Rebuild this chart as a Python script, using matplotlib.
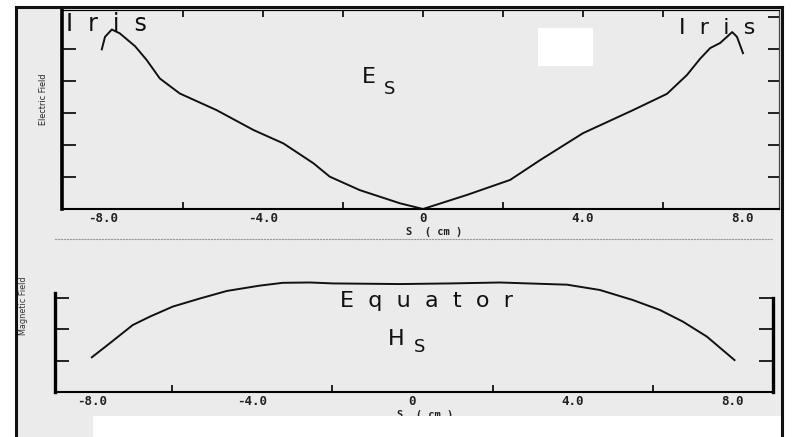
import matplotlib
matplotlib.use("Agg")
import matplotlib.pyplot as plt
from matplotlib.patches import Rectangle
from matplotlib.lines import Line2D

# Electric field along the cavity wall, S in cm
s_e = [-8.03, -7.95, -7.78, -7.58, -7.2, -6.91, -6.58, -6.08, -5.16, -4.24,
       -3.49, -2.74, -2.33, -1.58, -0.58, 0.0, 1.1, 2.18, 2.93, 4.0, 5.25,
       6.1, 6.6, 6.93, 7.18, 7.43, 7.73, 7.85, 8.0]
e_s = [4.99, 5.38, 5.61, 5.49, 5.09, 4.66, 4.08, 3.61, 3.09, 2.47,
       2.05, 1.43, 1.01, 0.59, 0.18, 0.0, 0.44, 0.91, 1.53, 2.37, 3.09,
       3.6, 4.19, 4.7, 5.03, 5.19, 5.53, 5.38, 4.87]

# Magnetic field along the cavity wall
s_h = [-8.0, -7.55, -6.98, -6.55, -5.98, -5.3, -4.63, -3.81, -3.23, -2.56,
       -1.98, -0.31, 0.94, 2.18, 3.86, 4.68, 5.5, 6.18, 6.75, 7.35, 8.04]
h_s = [1.11, 1.56, 2.14, 2.41, 2.73, 2.99, 3.23, 3.40, 3.49, 3.50,
       3.47, 3.45, 3.47, 3.50, 3.43, 3.26, 2.94, 2.62, 2.25, 1.77, 1.02]

x_major = [-8, -4, 0, 4, 8]
x_labels = ['-8.0', '-4.0', '0', '4.0', '8.0']
x_minor = [-6, -2, 2, 6]

W, H = 797, 437
paper = '#ebebeb'
ink = '#111111'

def box(l, t, r, b):
    return [l / W, 1 - b / H, (r - l) / W, (b - t) / H]

def fx(x):
    return x / W

def fy(y):
    return 1 - y / H

fig = plt.figure(figsize=(W / 100, H / 100), dpi=100, facecolor='white')

# scanned sheet with its black border
fig.patches.append(Rectangle((fx(16), fy(450)), fx(782) - fx(16), fy(7) - fy(450),
                             transform=fig.transFigure, facecolor=paper,
                             edgecolor='none', zorder=-1))

tick_font = dict(family='DejaVu Sans Mono', weight='bold', size=9)
unit_font = dict(family='DejaVu Sans Mono', weight='bold', size=7.5)

# ---- upper panel: E_s
ax1 = fig.add_axes(box(62, 10, 779, 209))
ax1.set_facecolor('none')
ax1.plot(s_e, e_s, color=ink, lw=1.4)
ax1.set_xlim(-9.025, 8.9)
ax1.set_ylim(0, 6.22)
ax1.set_xticks(x_major)
ax1.set_xticklabels(x_labels, **tick_font)
ax1.set_xticks(x_minor, minor=True)
ax1.tick_params(axis='x', which='major', length=0, pad=2, colors='#222')
ax1.tick_params(axis='x', which='minor', direction='in', length=5, width=1.2)
ax1.set_yticks([1, 2, 3, 4, 5])
ax1.set_yticklabels([])
ax1.tick_params(axis='y', direction='in', length=10, width=1.2)
ax1.spines['left'].set_linewidth(2.6)
ax1.spines['bottom'].set_linewidth(1.5)
ax1.spines['top'].set_linewidth(0.8)
ax1.spines['right'].set_linewidth(0.8)
ax1.spines['right'].set_color('#444')
top = ax1.secondary_xaxis('top')
top.set_xticks([-6, -4, -2, 0, 2, 4, 6])
top.set_xticklabels([])
top.tick_params(direction='in', length=5, width=1.2)
top.spines['top'].set_linewidth(0.8)
right = ax1.secondary_yaxis('right')
right.set_yticks([1, 2, 3, 4, 5, 6])
right.set_yticklabels([])
right.tick_params(direction='in', length=8, width=1.2)
right.spines['right'].set_linewidth(0.8)
right.spines['right'].set_color('#444')

# ---- lower panel: H_s
ax2 = fig.add_axes(box(55, 239, 773, 392))
ax2.set_facecolor('none')
ax2.plot(s_h, h_s, color=ink, lw=1.4)
ax2.set_xlim(-8.92, 9.0)
ax2.set_ylim(0, 4.89)
ax2.set_xticks(x_major)
ax2.set_xticklabels(x_labels, **tick_font)
ax2.set_xticks(x_minor, minor=True)
ax2.tick_params(axis='x', which='major', length=0, pad=2, colors='#222')
ax2.tick_params(axis='x', which='minor', direction='in', length=5, width=1.2)
ax2.set_yticks([1, 2, 3])
ax2.set_yticklabels([])
ax2.tick_params(axis='y', direction='in', length=10, width=1.2, left=True, right=True)
ax2.spines['left'].set_linewidth(2.4)
ax2.spines['left'].set_bounds(0, 3.16)
ax2.spines['right'].set_linewidth(2.4)
ax2.spines['right'].set_bounds(0, 3.0)
ax2.spines['bottom'].set_linewidth(1.5)
ax2.spines['top'].set_linestyle(':')
ax2.spines['top'].set_color('#999999')
ax2.spines['top'].set_linewidth(0.8)

# axis titles
fig.text(fx(43), fy(99), 'Electric Field', rotation=90, ha='center', va='center',
         family='DejaVu Sans', stretch='condensed', size=6.5, color='#222')
fig.text(fx(24), fy(306), 'Magnetic Field', rotation=90, ha='center', va='center',
         family='DejaVu Sans', stretch='condensed', size=6.5, color='#333')
fig.text(fx(434), fy(232), 'S  ( cm )', ha='center', va='center', **unit_font, color='#222')
fig.text(fx(425), fy(415), 'S  ( cm )', ha='center', va='center', **unit_font, color='#222')

# annotations
big = dict(family='DejaVu Sans', color=ink)
fig.text(fx(66), fy(31), 'I  r  i  s', ha='left', va='baseline', size=17, **big)
fig.text(fx(679), fy(34), 'I  r  i  s', ha='left', va='baseline', size=16, **big)
fig.text(fx(362), fy(83), 'E', ha='left', va='baseline', size=16, **big)
fig.text(fx(384), fy(94), 'S', ha='left', va='baseline', size=13, **big)
fig.text(fx(426), fy(307), 'E  q  u  a  t  o  r', ha='center', va='baseline', size=16, **big)
fig.text(fx(388), fy(345), 'H', ha='left', va='baseline', size=16, **big)
fig.text(fx(414), fy(352), 'S', ha='left', va='baseline', size=13, **big)

# white patches pasted over the sheet
fig.patches.append(Rectangle((fx(538), fy(66)), fx(593) - fx(538), fy(28) - fy(66),
                             transform=fig.transFigure, facecolor='white',
                             edgecolor='none', zorder=5))
fig.patches.append(Rectangle((fx(93), fy(440)), fx(782) - fx(93), fy(416) - fy(440),
                             transform=fig.transFigure, facecolor='white',
                             edgecolor='none', zorder=5))

# border of the sheet
for xs, ys, lw in [((16, 16), (7, 440), 2.2), ((16, 782), (7, 7), 2.2),
                   ((782, 782), (7, 440), 2.2)]:
    fig.lines.append(Line2D([fx(v) for v in xs], [fy(v) for v in ys],
                            transform=fig.transFigure, color=ink, lw=lw, zorder=6))

fig.savefig('out.png', dpi=100, facecolor=fig.get_facecolor())
